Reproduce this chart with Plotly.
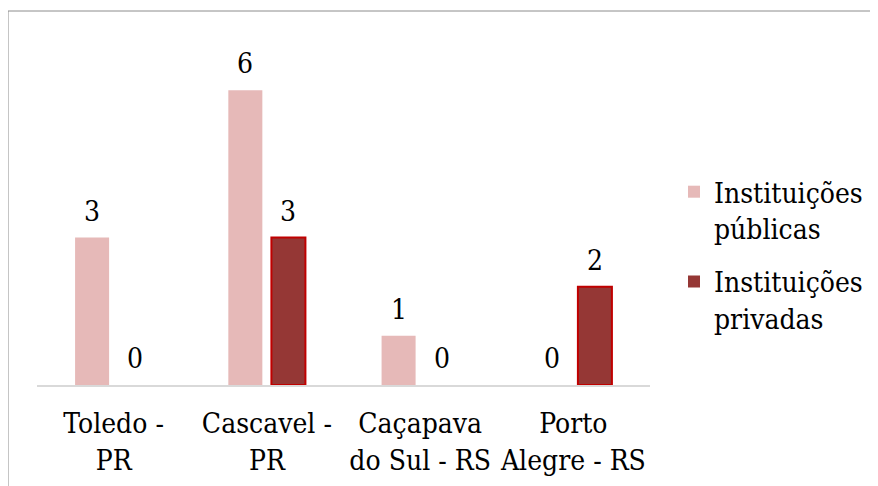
import plotly.graph_objects as go

categories = ["Toledo -<br>PR", "Cascavel -<br>PR", "Caçapava<br>do Sul - RS", "Porto<br>Alegre - RS"]
publicas = [3, 6, 1, 0]
privadas = [0, 3, 0, 2]
series_names = ["Instituições<br>públicas", "Instituições<br>privadas"]

FONT = '"DejaVu Serif Condensed", "DejaVu Serif", serif'
FS = 28
# page body has an 8px margin; shrink figure so it fits the window
OFF = 8
W, H = 878 - OFF, 486 - OFF
L, T = 37 - OFF, 41 - OFF
R = W - (650 - OFF)
B = H - (385 - OFF)

fig = go.Figure()
fig.add_trace(go.Bar(
    x=categories, y=publicas, name=series_names[0], legendgroup="pub",
    marker=dict(color="#E6B9B8", line=dict(width=0)),
))
fig.add_trace(go.Bar(
    x=categories, y=privadas, name=series_names[1], legendgroup="priv",
    marker=dict(color="#953735",
                line=dict(color="#C00000", width=[2 if v > 0 else 0 for v in privadas])),
))

annotations = []
for vals, shift in ((publicas, -21.5), (privadas, 21.5)):
    for c, v in zip(categories, vals):
        annotations.append(dict(
            x=c, y=v, xref="x", yref="y", text=str(v), showarrow=False,
            xshift=shift, yshift=8, yanchor="bottom",
            font=dict(family=FONT, size=FS, color="black"),
        ))

pw = W - L - R
ph = H - T - B
fig.update_layout(
    template="none",
    width=W, height=H,
    margin=dict(l=L, r=R, t=T, b=B, pad=0, autoexpand=False),
    paper_bgcolor="white", plot_bgcolor="white",
    barmode="group", bargap=0.438, bargroupgap=0.21,
    font=dict(family=FONT, size=FS, color="black"),
    showlegend=True,
    legend=dict(
        x=(674 - 37) / pw, xanchor="left",
        y=(385 - 167) / ph, yanchor="top",
        valign="top", font=dict(family=FONT, size=FS, color="black"),
        bgcolor="rgba(0,0,0,0)", tracegroupgap=14,
    ),
    xaxis=dict(
        automargin=False, tickangle=0,
        showline=True, linecolor="#D9D9D9", linewidth=1.5,
        showgrid=False, ticks="", tickfont=dict(family=FONT, size=FS, color="black"),
        ticklabelstandoff=13,
    ),
    yaxis=dict(
        automargin=False,
        range=[0, 7], visible=False, showgrid=False, zeroline=False,
    ),
    annotations=annotations,
    shapes=[dict(
        type="rect", xref="paper", yref="paper",
        x0=(8 - 37) / pw, x1=(900 - 37) / pw,
        y0=(385 - 520) / ph, y1=(385 - 11) / ph,
        line=dict(color="#8C8C8C", width=1), fillcolor="rgba(0,0,0,0)",
        layer="below",
    )],
)

fig.write_html("out.html")
